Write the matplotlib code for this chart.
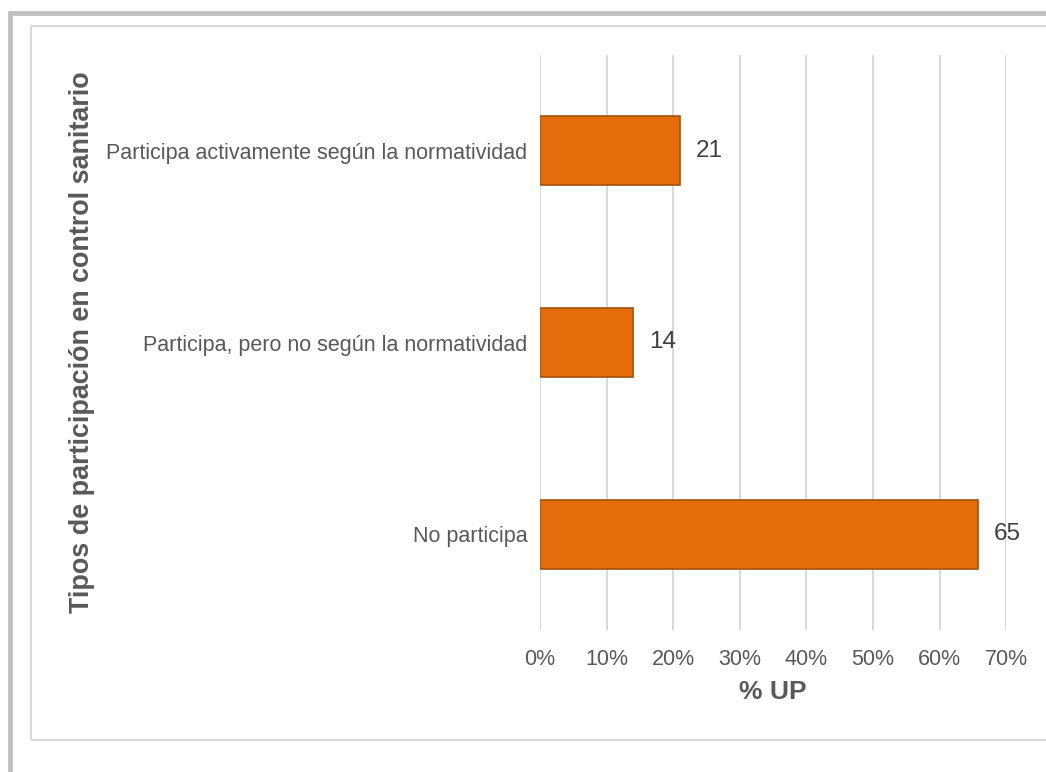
import matplotlib.pyplot as plt
from matplotlib.lines import Line2D
from matplotlib.patches import Rectangle

# Data (bottom to top as drawn)
categories = [
    "No participa",
    "Participa, pero no según la normatividad",
    "Participa activamente según la normatividad",
]
pct_up = [65.7, 14.0, 21.0]
value_labels = ["65", "14", "21"]
xticks = [0, 10, 20, 30, 40, 50, 60, 70]

plt.rcParams["font.family"] = ["Liberation Sans", "DejaVu Sans"]
text_col = "#595959"

W, H = 1046, 772
fig = plt.figure(figsize=(W / 100, H / 100), dpi=100)

# outer gray frame and inner chart-area border (figure pixel coords)
def fx(px):
    return px / W

def fy(py):
    return 1 - py / H

fig.add_artist(Line2D([fx(9.5), fx(9.5), fx(W)], [fy(H), fy(13), fy(13)],
                      color="#BFBFBF", lw=3.4, transform=fig.transFigure,
                      solid_joinstyle="miter"))
fig.add_artist(Rectangle((fx(30.5), fy(739.5)), fx(W + 20) - fx(30.5),
                         fy(25.5) - fy(739.5), transform=fig.transFigure,
                         fill=False, edgecolor="#D9D9D9", lw=1.5))

ax = fig.add_axes([fx(540), fy(630), fx(1006.3) - fx(540), fy(55) - fy(630)])

y = range(len(categories))
ax.barh(y, pct_up, height=0.36, color="#E46C0A", edgecolor="#A5520C", linewidth=1.2,
        zorder=3)

for yi, v, lab in zip(y, pct_up, value_labels):
    ax.text(v + 2.4, yi, lab, va="center", ha="left", fontsize=17.5, color="#404040")

ax.set_xlim(0, 70)
ax.set_ylim(-0.5, len(categories) - 0.5)
ax.set_xticks(xticks)
ax.set_xticklabels([f"{t}%" for t in xticks])
ax.set_yticks(list(y))
ax.set_yticklabels(categories)
ax.tick_params(axis="both", length=0, labelsize=15.5, colors=text_col)
ax.tick_params(axis="x", pad=14)
ax.tick_params(axis="y", pad=9)
ax.grid(axis="x", color="#D9D9D9", lw=1.5, zorder=0)
for s in ax.spines.values():
    s.set_visible(False)

ax.set_xlabel("% UP", fontsize=19, fontweight="bold", color=text_col, labelpad=7)

# y title sits far left in the chart area, away from the category labels
fig.text(fx(82), (fy(55) + fy(630)) / 2, "Tipos de participación en control sanitario",
         rotation=90, ha="center", va="center", fontsize=19.4, fontweight="bold",
         color=text_col)

fig.savefig("out.png", dpi=100)
